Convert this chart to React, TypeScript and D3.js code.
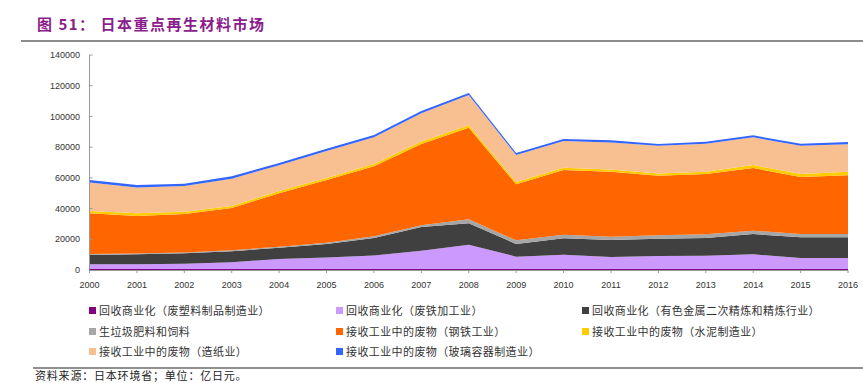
import React from "react";
import * as d3 from "d3";

const years = [2000, 2001, 2002, 2003, 2004, 2005, 2006, 2007, 2008, 2009, 2010, 2011, 2012, 2013, 2014, 2015, 2016];

const plastic = [500, 500, 500, 500, 500, 500, 500, 500, 500, 500, 500, 500, 500, 500, 500, 500, 500];
const iron = [3200, 3200, 3600, 4500, 6700, 7700, 9000, 12100, 16000, 8200, 9500, 8000, 8600, 8800, 9700, 7300, 7300];
const nonferrous = [6100, 6500, 6800, 7200, 7300, 8700, 11300, 15400, 13900, 8200, 10600, 11000, 11300, 11500, 13200, 13500, 13500];
const garbage = [600, 500, 500, 600, 700, 900, 1100, 1100, 2600, 2400, 2400, 2200, 2200, 2400, 2200, 2100, 2100];
const steel = [26500, 24500, 25100, 27600, 34700, 40800, 45600, 52900, 59700, 36500, 42100, 42300, 38800, 39300, 40800, 37200, 38300];
const cement = [1500, 1700, 1500, 1300, 1500, 1300, 1500, 1600, 1500, 1500, 1500, 1500, 1500, 1500, 2000, 1900, 2300];
const paper = [18500, 16900, 16700, 17800, 16800, 17600, 17400, 18400, 19800, 17600, 17400, 17600, 18000, 18200, 18000, 18400, 17900];
const glass = [1700, 1500, 1500, 1500, 1500, 1500, 1500, 1500, 1300, 1300, 1300, 1400, 1200, 1300, 1300, 1300, 1500];

const yTicks = [0, 20000, 40000, 60000, 80000, 100000, 120000, 140000];

const seriesNames = [
  "回收商业化（废塑料制品制造业）",
  "回收商业化（废铁加工业）",
  "回收商业化（有色金属二次精炼和精炼行业）",
  "生垃圾肥料和饲料",
  "接收工业中的废物（钢铁工业）",
  "接收工业中的废物（水泥制造业）",
  "接收工业中的废物（造纸业）",
  "接收工业中的废物（玻璃容器制造业）",
];
const seriesValues = [plastic, iron, nonferrous, garbage, steel, cement, paper, glass];
const colors = ["#800080", "#CC99FF", "#404040", "#A6A6A6", "#FF6600", "#FFCC00", "#F8C090", "#3366FF"];

const title = "图 51：  日本重点再生材料市场";
const source = "资料来源：日本环境省；单位：亿日元。";

export default function App() {
  const W = 863;
  const H = 383;
  const x = d3.scaleLinear().domain([2000, 2016]).range([89.5, 848]);
  const y = d3.scaleLinear().domain([0, 140000]).range([270, 55]);

  const rows = years.map((yr, i) => {
    const r: any = { year: yr };
    seriesValues.forEach((s, k) => (r["s" + k] = s[i]));
    return r;
  });
  const keys = seriesValues.map((_, k) => "s" + k);
  const stacked = d3.stack().keys(keys)(rows);
  const area = d3
    .area<any>()
    .x((d) => x(d.data.year))
    .y0((d) => y(d[0]))
    .y1((d) => y(d[1]));

  const legendCols = [89, 336, 582];
  const legendRows = [311, 332, 352];

  const axisFont = "'Liberation Sans', Arial, sans-serif";
  const cjkFont = "'Noto Sans CJK SC', sans-serif";

  return (
    <svg
      width={W}
      height={H}
      style={{ position: "absolute", left: 0, top: 0, background: "#fff" }}
    >
      <rect x={0} y={0} width={W} height={H} fill="#fff" />
      <text
        x={37}
        y={30}
        fill="#8B1C8B"
        fontSize={15}
        fontWeight="bold"
        letterSpacing={1.5}
        fontFamily={cjkFont}
      >
        {title}
      </text>
      <line x1={21} x2={W} y1={41} y2={41} stroke="#8c8c8c" strokeWidth={2} />

      {stacked.map((layer, k) => (
        <path key={k} d={area(layer as any) || ""} fill={colors[k]} />
      ))}

      {/* y axis */}
      <line x1={89.5} x2={89.5} y1={55} y2={270} stroke="#999" strokeWidth={1} />
      {yTicks.map((t) => (
        <g key={t}>
          <line x1={89.5} x2={92.5} y1={y(t)} y2={y(t)} stroke="#999" />
          <text
            x={80}
            y={y(t)}
            dy="0.35em"
            textAnchor="end"
            fontSize={9}
            fill="#333"
            fontFamily={axisFont}
          >
            {t}
          </text>
        </g>
      ))}

      {/* x axis */}
      <line x1={89.5} x2={848} y1={270.5} y2={270.5} stroke="#999" strokeWidth={1} />
      <line x1={89.5} x2={848} y1={269.5} y2={269.5} stroke={colors[0]} strokeWidth={1} />
      {years.map((yr) => (
        <g key={yr}>
          <line x1={x(yr)} x2={x(yr)} y1={270} y2={273} stroke="#999" />
          <text
            x={x(yr)}
            y={285}
            dy="0.35em"
            textAnchor="middle"
            fontSize={9}
            fill="#333"
            fontFamily={axisFont}
          >
            {yr}
          </text>
        </g>
      ))}

      {/* legend */}
      {seriesNames.map((name, i) => {
        const cx = legendCols[i % 3];
        const cy = legendRows[Math.floor(i / 3)];
        return (
          <g key={name}>
            <rect x={cx} y={cy - 4} width={7} height={7} fill={colors[i]} />
            <text
              x={cx + 10}
              y={cy}
              dy="0.35em"
              fontSize={11}
              letterSpacing={0.4}
              fill="#333"
              fontFamily={cjkFont}
            >
              {name}
            </text>
          </g>
        );
      })}

      <line x1={33} x2={W} y1={368} y2={368} stroke="#222" strokeWidth={1} />
      <text
        x={35}
        y={376}
        dy="0.35em"
        fontSize={11}
        letterSpacing={0.8}
        fill="#222"
        fontFamily={cjkFont}
      >
        {source}
      </text>
    </svg>
  );
}
